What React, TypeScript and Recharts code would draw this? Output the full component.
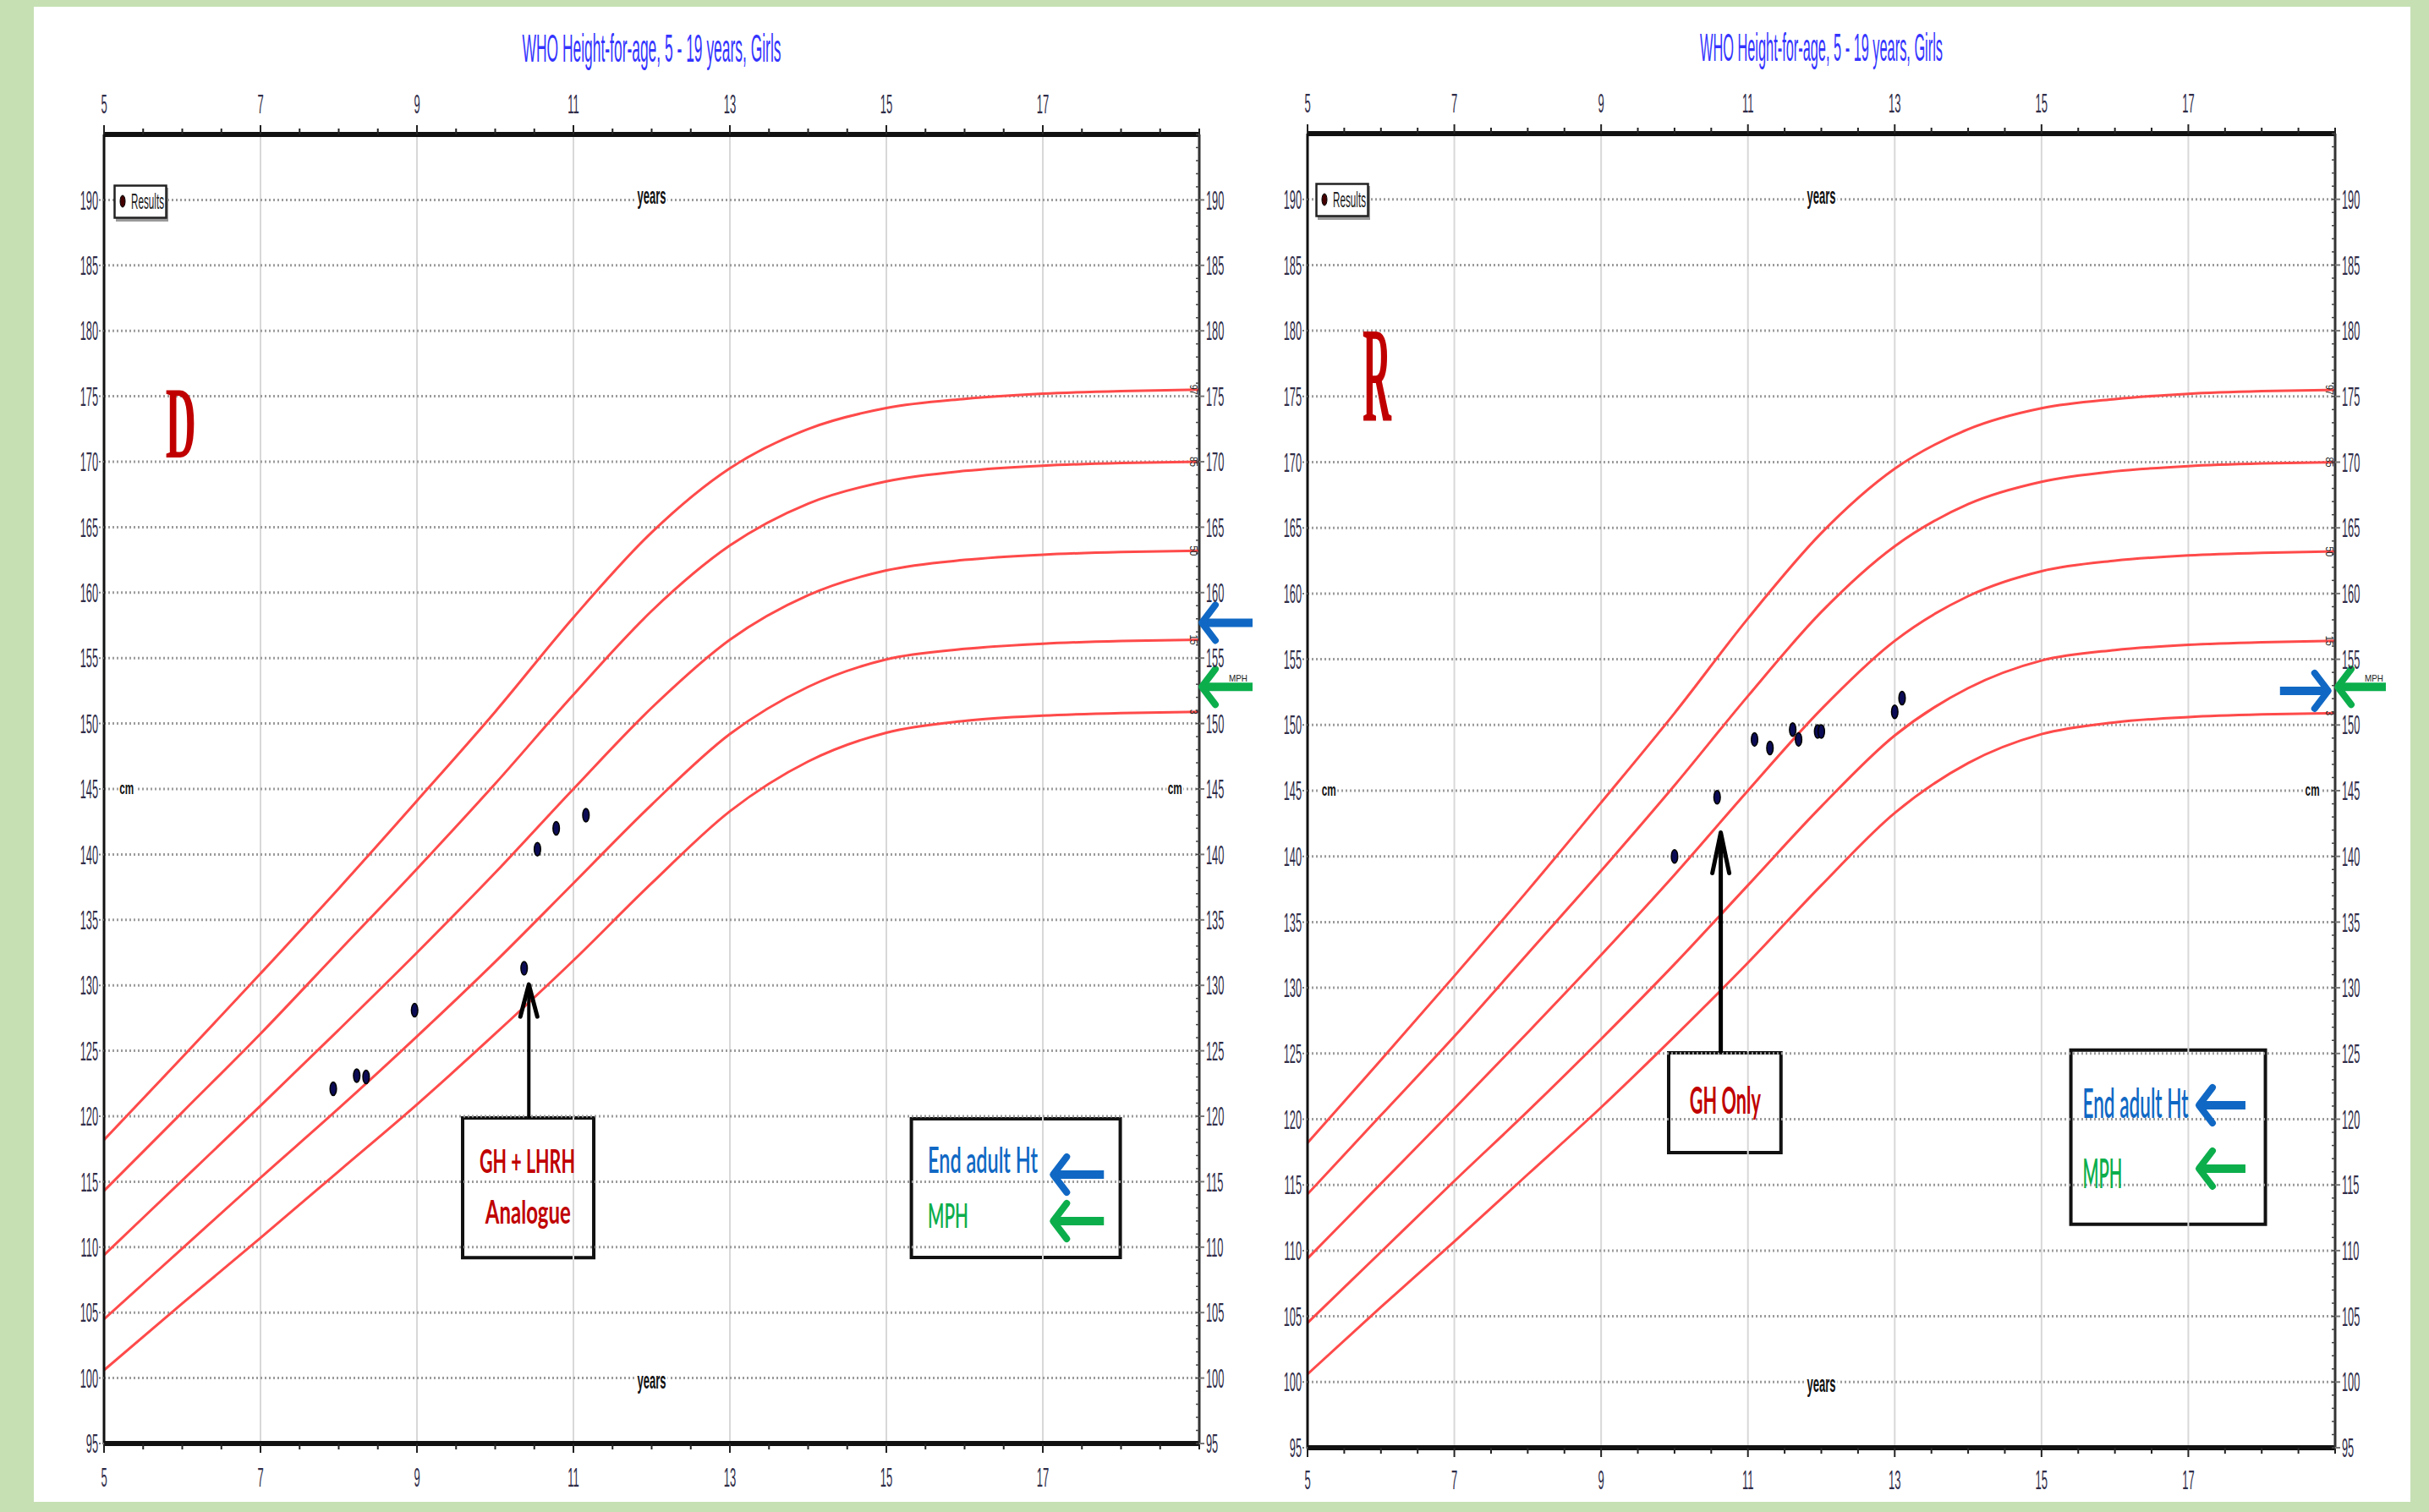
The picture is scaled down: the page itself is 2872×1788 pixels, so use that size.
import React from 'react';
import {
  ComposedChart, Line, Scatter, XAxis, YAxis,
  ReferenceLine, ReferenceArea, ReferenceDot, Legend,
} from 'recharts';

// ---------------- data ----------------
const AGES = [5, 6, 7, 8, 9, 10, 11, 12, 13, 14, 15, 16, 17, 18, 19];
const P3 = [100.6, 105.7, 110.7, 115.8, 120.9, 126.3, 131.9, 137.8, 143.3, 147.1, 149.3, 150.2, 150.6, 150.8, 150.9];
const P15 = [104.5, 109.9, 115.3, 120.6, 126.1, 131.8, 137.8, 143.8, 149.2, 152.8, 154.9, 155.7, 156.1, 156.3, 156.4];
const P50 = [109.4, 115.1, 120.8, 126.6, 132.5, 138.6, 145.0, 151.2, 156.4, 159.8, 161.7, 162.5, 162.9, 163.1, 163.2];
const P85 = [114.3, 120.3, 126.3, 132.6, 138.9, 145.4, 152.2, 158.6, 163.6, 166.8, 168.5, 169.3, 169.7, 169.9, 170.0];
const P97 = [118.2, 124.5, 130.9, 137.4, 144.1, 150.9, 158.1, 164.6, 169.5, 172.5, 174.1, 174.8, 175.2, 175.4, 175.5];
const PCT_NAMES = ['3', '15', '50', '85', '97'];
const PCT_VALUES = [P3, P15, P50, P85, P97];

const D_AGES = [7.93, 8.23, 8.35, 8.97, 10.37, 10.54, 10.78, 11.16];
const D_HEIGHTS = [122.1, 123.1, 123.0, 128.1, 131.3, 140.4, 142.0, 143.0];
const R_AGES = [10.0, 10.58, 11.09, 11.30, 11.61, 11.69, 11.95, 12.0, 13.0, 13.1];
const R_HEIGHTS = [140.0, 144.5, 148.9, 148.25, 149.65, 148.9, 149.5, 149.5, 151.0, 152.05];

const X_TICKS = [5, 5.5, 6, 6.5, 7, 7.5, 8, 8.5, 9, 9.5, 10, 10.5, 11, 11.5, 12, 12.5, 13, 13.5, 14, 14.5, 15, 15.5, 16, 16.5, 17, 17.5, 18, 18.5, 19];
const X_LABELS = [5, 7, 9, 11, 13, 15, 17];
const X_GRID = [7, 9, 11, 13, 15, 17];
const Y_LABELS = [95, 100, 105, 110, 115, 120, 125, 130, 135, 140, 145, 150, 155, 160, 165, 170, 175, 180, 185, 190];
const Y_GRID = [100, 105, 110, 115, 120, 125, 130, 135, 140, 145, 150, 155, 160, 165, 170, 175, 180, 185, 190];
const Y_MINOR = Array.from({ length: 101 }, (_, i) => 95 + i);

const TITLE = 'WHO Height-for-age, 5 - 19 years, Girls';

// ---------------- styles ----------------
const TICK_FONT = 'Liberation Sans, Arial, sans-serif';
const NOTE_FONT = 'Lato, Open Sans, sans-serif';
const SERIF = 'Liberation Serif, DejaVu Serif, serif';
const TICK_FILL = '#2f2c48';
const RED_CURVE = '#ff4a4a';
const DARK_RED = '#c00000';
const BLUE = '#1068c4';
const GREEN = '#0cae4c';

// ---------------- ticks ----------------
const YTickLeft = (p: any) => {
  const v = p.payload.value;
  return (
    <g>
      <line x1={p.x - 6} x2={p.x} y1={p.y} y2={p.y} stroke="#777" strokeWidth={2} strokeDasharray="2 2" />
      <text transform={`translate(${p.x - 7},${p.y}) scale(0.4,1)`} textAnchor="end" dominantBaseline="central"
        fontSize={32} fill={TICK_FILL} fontFamily={TICK_FONT}>{v}</text>
    </g>
  );
};

const YTickRight = (p: any) => {
  const v = p.payload.value;
  const labeled = v % 5 === 0 && v <= 190;
  return (
    <g>
      <line x1={p.x - 4} x2={p.x} y1={p.y} y2={p.y} stroke="#444" strokeWidth={1.5} />
      {labeled && <line x1={p.x} x2={p.x + 6} y1={p.y} y2={p.y} stroke="#777" strokeWidth={2} />}
      {labeled && (
        <text transform={`translate(${p.x + 8},${p.y}) scale(0.4,1)`} textAnchor="start" dominantBaseline="central"
          fontSize={32} fill={TICK_FILL} fontFamily={TICK_FONT}>{v}</text>
      )}
    </g>
  );
};

const makeXTick = (top: boolean, labelOffset: number) => (p: any) => {
  const v = p.payload.value;
  const labeled = X_LABELS.includes(v);
  const s = top ? -1 : 1;
  return (
    <g>
      <line x1={p.x} x2={p.x} y1={p.y} y2={p.y + s * (labeled ? 11 : 7)} stroke="#222" strokeWidth={2} />
      {labeled && (
        <text transform={`translate(${p.x},${p.y + s * labelOffset}) scale(0.42,1)`} textAnchor="middle"
          dominantBaseline="central" fontSize={31} fill={TICK_FILL} fontFamily={TICK_FONT}>{v}</text>
      )}
    </g>
  );
};

const titleLabel = (len: number) => (props: any) => {
  const vb = props.viewBox || { x: 0, y: 0, width: 0, height: 0 };
  return (
    <text x={vb.x + vb.width / 2} y={vb.y + vb.height - 86} textAnchor="middle" fontSize={46} fill="#3434ff"
      fontFamily={TICK_FONT} textLength={len} lengthAdjust="spacingAndGlyphs">{TITLE}</text>
  );
};

// ---------------- annotation helpers ----------------
const mark = (key: string, x: number, y: number, draw: (cx: number, cy: number) => React.ReactElement) => (
  <ReferenceDot key={key} xAxisId="bottom" yAxisId="left" x={x} y={y} r={1} fill="none" stroke="none"
    ifOverflow="visible" shape={(p: any) => draw(p.cx, p.cy)} />
);

type TOpt = { size: number; len: number; fill: string; anchor?: string; weight?: number; family?: string };
const txt = (cx: number, cy: number, s: string, o: TOpt) => (
  <text x={cx} y={cy} fontSize={o.size} fill={o.fill} textAnchor={o.anchor || 'start'} fontWeight={o.weight || 400}
    fontFamily={o.family || NOTE_FONT} textLength={o.len} lengthAdjust="spacingAndGlyphs">{s}</text>
);

// dir = 1: pointing left (tail to the right); dir = -1: pointing right
const hArrow = (cx: number, cy: number, dir: number, len: number, color: string) => (
  <g>
    <line x1={cx + dir * 6} y1={cy} x2={cx + dir * len} y2={cy} stroke={color} strokeWidth={10} />
    <polyline points={`${cx + dir * 19},${cy - 21} ${cx + dir * 3},${cy} ${cx + dir * 19},${cy + 21}`} fill="none"
      stroke={color} strokeWidth={8} strokeLinecap="round" strokeLinejoin="round" />
  </g>
);

const upHead = (cx: number, cy: number, h: number) => (
  <polyline points={`${cx - 10},${cy + h} ${cx},${cy + 2} ${cx + 10},${cy + h}`} fill="none" stroke="#000"
    strokeWidth={5} strokeLinecap="round" strokeLinejoin="round" />
);

const box = (key: string, x1: number, x2: number, y1: number, y2: number) => (
  <ReferenceArea key={key} xAxisId="bottom" yAxisId="left" x1={x1} x2={x2} y1={y1} y2={y2} stroke="#111"
    strokeWidth={4} fill="#fff" fillOpacity={1} />
);

const shaft = (key: string, x: number, y1: number, y2: number, w: number) => (
  <ReferenceLine key={key} xAxisId="bottom" yAxisId="left" segment={[{ x, y: y1 }, { x, y: y2 }]} stroke="#000"
    strokeWidth={w} ifOverflow="visible" />
);

const tinyLabel = (cx: number, cy: number, s: string) => (
  <text transform={`translate(${cx},${cy}) rotate(90)`} textAnchor="middle" dominantBaseline="central" fontSize={12}
    fill="#222" fontFamily={TICK_FONT} textLength={s.length * 6} lengthAdjust="spacingAndGlyphs">{s}</text>
);

const yearsLabel = (cx: number, cy: number) => (
  <g>
    <rect x={cx - 19} y={cy - 17} width={38} height={24} fill="#fff" />
    {txt(cx, cy, 'years', { size: 28, len: 34, fill: '#111', anchor: 'middle', weight: 700, family: TICK_FONT })}
  </g>
);

const cmLabel = (cx: number, cy: number) => (
  <g>
    <rect x={cx - 10} y={cy - 9} width={20} height={16} fill="#fff" />
    {txt(cx, cy + 6, 'cm', { size: 20, len: 17, fill: '#111', anchor: 'middle', weight: 700, family: TICK_FONT })}
  </g>
);

const ResultsLegend = () => (
  <svg width={130} height={46} style={{ display: 'block', overflow: 'visible' }}>
    <rect x={3} y={4} width={62} height={40} fill="#9a9a9a" />
    <rect x={1.5} y={1.5} width={61} height={38} fill="#fff" stroke="#222" strokeWidth={2.5} />
    <ellipse cx={11} cy={20} rx={3} ry={7} fill="#400" stroke="#000" strokeWidth={1} />
    <text transform="translate(21,29) scale(0.45,1)" fontSize={26} fill="#222" fontFamily={TICK_FONT}>Results</text>
  </svg>
);

const dotShape = (p: any) => (
  <ellipse cx={p.cx} cy={p.cy} rx={3.8} ry={8} fill="#0b0b55" stroke="#000" strokeWidth={1.5} />
);

// ---------------- panels ----------------
type PanelCfg = {
  left: number; width: number; plot: { x0: number; x1: number; y0: number; y1: number };
  ages: number[]; heights: number[]; titleLen: number; legendLeft: number; legendTop: number;
  bottomLabelOffset: number; notes: React.ReactNode[];
};

const curveData = PCT_VALUES.map((vals) => AGES.map((a, i) => ({ age: a, h: vals[i] })));

const commonNotes = (yearsX: number) => [
  mark('yrsTop', yearsX, 190, (x, y) => yearsLabel(x, y + 5)),
  mark('yrsBot', yearsX, 100, (x, y) => yearsLabel(x, y + 12)),
  mark('cmL', 5.29, 145, (x, y) => cmLabel(x, y)),
  mark('cmR', 18.69, 145, (x, y) => cmLabel(x, y)),
  ...PCT_NAMES.map((n, i) => mark('pl' + n, 19, PCT_VALUES[i][PCT_VALUES[i].length - 1], (x, y) => tinyLabel(x - 7, y, n))),
];

const leftNotes: React.ReactNode[] = [
  ...commonNotes(12),
  mark('D', 5.98, 170.3, (x, y) => txt(x, y, 'D', { size: 121, len: 36, fill: DARK_RED, anchor: 'middle', weight: 700, family: SERIF })),
  box('b1', 9.584, 11.26, 109.2, 119.87),
  mark('t1', 10.41, 115.67, (x, y) => txt(x, y, 'GH + LHRH', { size: 38, len: 113, fill: DARK_RED, anchor: 'middle', weight: 700 })),
  mark('t2', 10.42, 111.8, (x, y) => txt(x, y, 'Analogue', { size: 38, len: 101, fill: DARK_RED, anchor: 'middle', weight: 700 })),
  shaft('s1', 10.43, 119.87, 129.6, 4),
  mark('h1', 10.43, 130.2, (x, y) => upHead(x, y, 40)),
  box('b2', 15.32, 17.99, 109.21, 119.81),
  mark('t3', 15.53, 115.67, (x, y) => txt(x, y, 'End adult Ht', { size: 42, len: 130, fill: BLUE, weight: 600 })),
  mark('a3', 17.1, 115.54, (x, y) => hArrow(x, y, 1, 63, BLUE)),
  mark('t4', 15.53, 111.47, (x, y) => txt(x, y, 'MPH', { size: 40, len: 48, fill: GREEN, weight: 600 })),
  mark('a4', 17.1, 111.99, (x, y) => hArrow(x, y, 1, 63, GREEN)),
  mark('mph', 19, 152.8, (x, y) => txt(x + 35, y - 6, 'MPH', { size: 11, len: 22, fill: '#222', family: TICK_FONT })),
  mark('a5', 19, 157.7, (x, y) => hArrow(x, y, 1, 63, BLUE)),
  mark('a6', 19, 152.8, (x, y) => hArrow(x, y, 1, 63, GREEN)),
];

const rightNotes: React.ReactNode[] = [
  ...commonNotes(12),
  mark('R', 5.945, 173.1, (x, y) => txt(x, y, 'R', { size: 160, len: 34, fill: DARK_RED, anchor: 'middle', weight: 700, family: SERIF })),
  box('b1', 9.92, 11.45, 117.46, 125.05),
  mark('t1', 10.69, 120.4, (x, y) => txt(x, y, 'GH Only', { size: 44, len: 84, fill: DARK_RED, anchor: 'middle', weight: 700 })),
  shaft('s1', 10.63, 125.05, 141.2, 5),
  mark('h1', 10.63, 141.94, (x, y) => upHead(x, y, 50)),
  box('b2', 15.4, 18.05, 112.0, 125.26),
  mark('t3', 15.56, 120.1, (x, y) => txt(x, y, 'End adult Ht', { size: 48, len: 125, fill: BLUE, weight: 600 })),
  mark('a3', 17.11, 121.06, (x, y) => hArrow(x, y, 1, 58, BLUE)),
  mark('t4', 15.56, 114.75, (x, y) => txt(x, y, 'MPH', { size: 48, len: 47, fill: GREEN, weight: 600 })),
  mark('a4', 17.11, 116.24, (x, y) => hArrow(x, y, 1, 58, GREEN)),
  mark('mph', 19, 152.9, (x, y) => txt(x + 35, y - 6, 'MPH', { size: 11, len: 22, fill: '#222', family: TICK_FONT })),
  mark('a5', 18.94, 152.6, (x, y) => hArrow(x, y, -1, 60, BLUE)),
  mark('a6', 19, 152.9, (x, y) => hArrow(x, y, 1, 60, GREEN)),
];

const PANELS: PanelCfg[] = [
  {
    left: 0, width: 1500, plot: { x0: 123, x1: 1418, y0: 159, y1: 1707 },
    ages: D_AGES, heights: D_HEIGHTS, titleLen: 306, legendLeft: 134, legendTop: 218, bottomLabelOffset: 40,
    notes: leftNotes,
  },
  {
    left: 1460, width: 1400, plot: { x0: 1546, x1: 2761, y0: 158, y1: 1712 },
    ages: R_AGES, heights: R_HEIGHTS, titleLen: 287, legendLeft: 1555, legendTop: 216, bottomLabelOffset: 38,
    notes: rightNotes,
  },
];

const AXIS_W = 60;
const AXIS_H = 50;
const H = 1788;

function Panel({ cfg }: { cfg: PanelCfg }) {
  const { plot } = cfg;
  const margin = {
    left: plot.x0 - cfg.left - AXIS_W,
    right: cfg.left + cfg.width - plot.x1 - AXIS_W,
    top: plot.y0 - AXIS_H,
    bottom: H - plot.y1 - AXIS_H,
  };
  const results = cfg.ages.map((a, i) => ({ age: a, h: cfg.heights[i] }));
  return (
    <div style={{ position: 'absolute', left: cfg.left, top: 0 }}>
      <ComposedChart width={cfg.width} height={H} margin={margin}>
        {X_GRID.map((v) => (
          <ReferenceLine key={'gx' + v} xAxisId="bottom" yAxisId="left" x={v} stroke="#d8d8d8" strokeWidth={2} />
        ))}
        {Y_GRID.map((v) => (
          <ReferenceLine key={'gy' + v} xAxisId="bottom" yAxisId="left" y={v} stroke="#9c9c9c" strokeWidth={3}
            strokeDasharray="2 3" />
        ))}
        <XAxis xAxisId="top" orientation="top" type="number" dataKey="age" domain={[5, 19]} allowDataOverflow
          ticks={X_TICKS} interval={0} tickSize={0} tickMargin={0} height={AXIS_H} tickLine={false}
          axisLine={{ stroke: '#111', strokeWidth: 6 }} tick={makeXTick(true, 36)} label={titleLabel(cfg.titleLen)} />
        <XAxis xAxisId="bottom" orientation="bottom" type="number" dataKey="age" domain={[5, 19]} allowDataOverflow
          ticks={X_TICKS} interval={0} tickSize={0} tickMargin={0} height={AXIS_H} tickLine={false}
          axisLine={{ stroke: '#111', strokeWidth: 6 }} tick={makeXTick(false, cfg.bottomLabelOffset)} />
        <YAxis yAxisId="left" orientation="left" type="number" domain={[95, 195]} allowDataOverflow ticks={Y_LABELS}
          interval={0} tickSize={0} tickMargin={0} width={AXIS_W} tickLine={false}
          axisLine={{ stroke: '#111', strokeWidth: 3 }} tick={YTickLeft} />
        <YAxis yAxisId="right" orientation="right" type="number" domain={[95, 195]} allowDataOverflow ticks={Y_MINOR}
          interval={0} tickSize={0} tickMargin={0} width={AXIS_W} tickLine={false}
          axisLine={{ stroke: '#333', strokeWidth: 3 }} tick={YTickRight} />
        {curveData.map((d, i) => (
          <Line key={'c' + i} data={d} dataKey="h" xAxisId="bottom" yAxisId="left" type="monotone" stroke={RED_CURVE}
            strokeWidth={3} dot={false} activeDot={false} isAnimationActive={false} />
        ))}
        <Line data={curveData[2]} dataKey="h" xAxisId="top" yAxisId="right" stroke="none" strokeWidth={0} dot={false}
          activeDot={false} isAnimationActive={false} />
        <Scatter name="Results" data={results} dataKey="h" xAxisId="bottom" yAxisId="left" shape={dotShape}
          isAnimationActive={false} />
        {cfg.notes}
        <Legend layout="horizontal" verticalAlign="middle" align="center" content={<ResultsLegend />}
          wrapperStyle={{ left: cfg.legendLeft - cfg.left, top: cfg.legendTop, width: 130, height: 46 }} />
      </ComposedChart>
    </div>
  );
}

export default function App() {
  return (
    <div style={{ position: 'absolute', left: 0, top: 0, width: 2872, height: 1788, background: '#c6e0b4', overflow: 'hidden' }}>
      <div style={{ position: 'absolute', left: 40, top: 8, width: 2810, height: 1768, background: '#fff' }} />
      {PANELS.map((p, i) => (
        <Panel key={i} cfg={p} />
      ))}
    </div>
  );
}
